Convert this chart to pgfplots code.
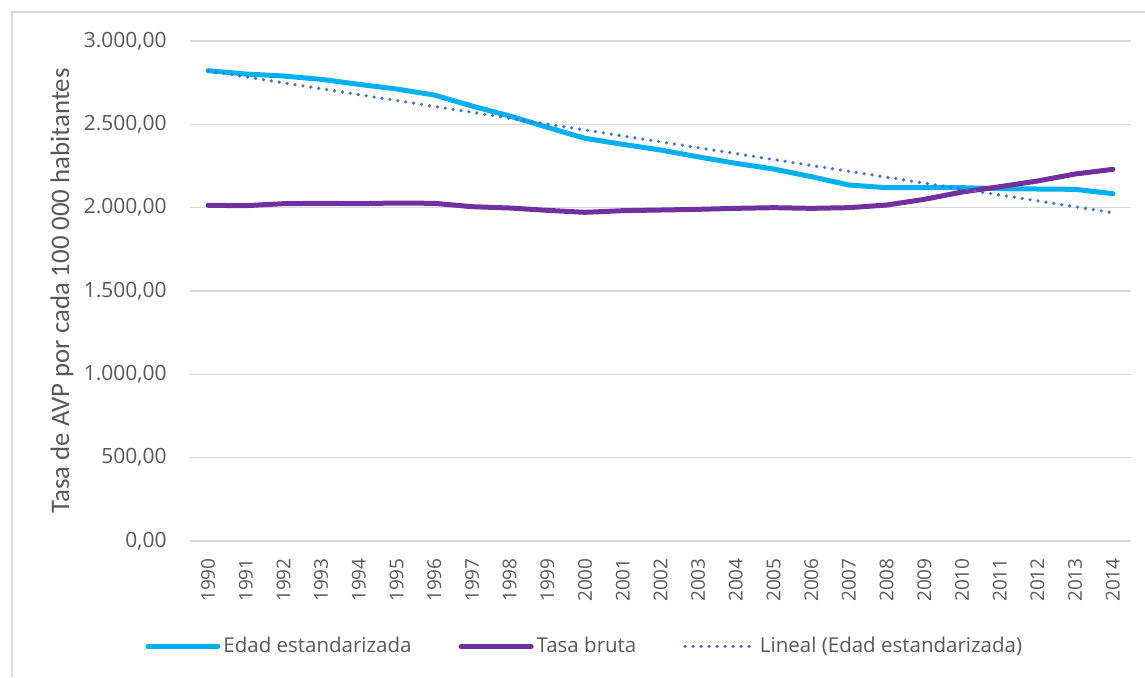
\documentclass[border=0pt]{standalone}
\usepackage{fontspec}
\setmainfont{Open Sans}
\newfontfamily\calibri{Carlito}
\usepackage{pgfplots}
\pgfplotsset{compat=1.18}
\definecolor{cyanline}{HTML}{00B0F0}
\definecolor{purpline}{HTML}{7030A0}
\definecolor{trendc}{HTML}{4472C4}
\definecolor{gridc}{HTML}{D9D9D9}
\definecolor{txt}{HTML}{595959}
\begin{document}
\begin{tikzpicture}
\useasboundingbox (0,0) rectangle (572.5pt,338.5pt);
\draw[gridc, line width=0.75pt] (6pt,0pt) -- (6pt,332.5pt) -- (572.5pt,332.5pt);
\begin{axis}[
  at={(95pt,68pt)}, anchor=south west,
  width=470.5pt, height=250pt, scale only axis,
  xmin=1989.52, xmax=2014.48, ymin=0, ymax=3000,
  axis line style={draw=none},
  major tick style={draw=none},
  ymajorgrids, grid style={gridc, line width=0.75pt},
  xtick={1990,...,2014},
  ytick={0,500,1000,1500,2000,2500,3000},
  yticklabels={{0,00},{500,00},{1.000,00},{1.500,00},{2.000,00},{2.500,00},{3.000,00}},
  /pgf/number format/assume math mode=true,
  xticklabel style={rotate=90, anchor=east, inner sep=0pt, text=txt,
     font=\fontsize{9.5pt}{11pt}\selectfont, /pgf/number format/1000 sep={}},
  xticklabel shift=8.5pt,
  yticklabel style={anchor=east, inner sep=0pt, xshift=-11.5pt, text=txt,
     font=\fontsize{10.5pt}{12pt}\selectfont},
  ylabel={Tasa de AVP por cada 100 000 habitantes},
  ylabel style={at={(axis description cs:-0.136,0.5)}, anchor=center, text=txt,
     font=\calibri\fontsize{13.4pt}{15pt}\selectfont},
  legend style={at={(axis description cs:-0.0542,-0.211)}, anchor=west,
     draw=none, fill=none, text=txt, font=\fontsize{10.25pt}{12pt}\selectfont,
     cells={anchor=west}, nodes={inner sep=1.5pt},
     /tikz/every even column/.append style={column sep=22pt}},
  legend columns=3,
  legend image code/.code={\draw[#1] (0pt,0pt) -- (35pt,0pt);},
]
\addplot[cyanline, line width=2.5pt, line join=round, line cap=round] coordinates {
(1990,2822) (1991,2802) (1992,2790) (1993,2770) (1994,2740) (1995,2712)
(1996,2676) (1997,2610) (1998,2550) (1999,2482) (2000,2416) (2001,2380)
(2002,2346) (2003,2305) (2004,2266) (2005,2232) (2006,2186) (2007,2136)
(2008,2120) (2009,2120) (2010,2120) (2011,2114) (2012,2112) (2013,2110)
(2014,2084)};
\addlegendentry{Edad estandarizada}
\addplot[purpline, line width=2.5pt, line join=round, line cap=round] coordinates {
(1990,2014) (1991,2012) (1992,2024) (1993,2026) (1994,2024) (1995,2028)
(1996,2026) (1997,2006) (1998,1998) (1999,1984) (2000,1972) (2001,1982)
(2002,1986) (2003,1990) (2004,1996) (2005,2000) (2006,1996) (2007,2000)
(2008,2016) (2009,2050) (2010,2094) (2011,2126) (2012,2160) (2013,2202)
(2014,2230)};
\addlegendentry{Tasa bruta}
\addplot[trendc, line width=1.8pt, line cap=round, dash pattern=on 0pt off 4pt] coordinates {
(1990,2820) (2014,1970)};
\addlegendentry{Lineal (Edad estandarizada)}
\end{axis}
\end{tikzpicture}
\end{document}
